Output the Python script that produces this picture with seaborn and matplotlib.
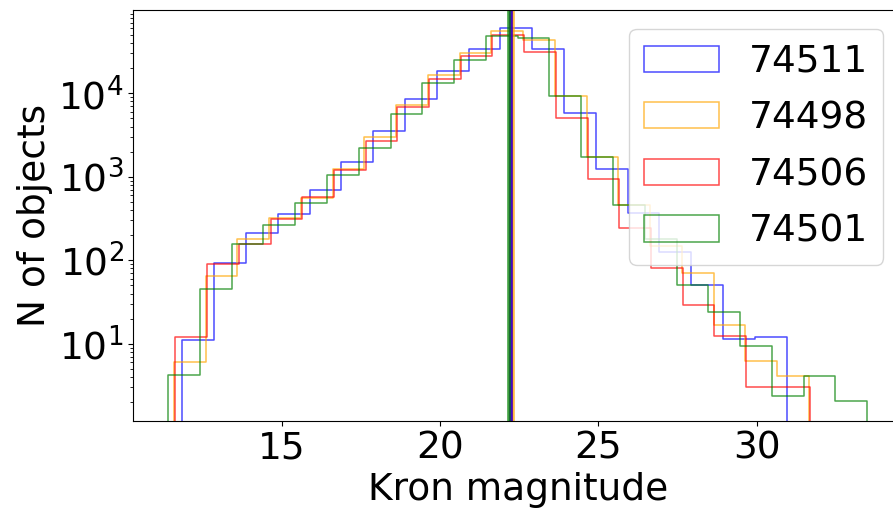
import numpy as np
import pandas as pd
import matplotlib
matplotlib.use("Agg")
import matplotlib.pyplot as plt
from matplotlib.patches import Patch
import seaborn as sns

# ---- data ----
labels = ["74511", "74498", "74506", "74501"]
colors = ["blue", "orange", "red", "green"]

bin_start = [11.87, 11.60, 11.65, 11.42]
bin_width = [1.004, 1.0025, 1.001, 1.0033]

counts_74511 = [11, 94, 212, 360, 705, 1486, 3500, 8600, 18660, 33700,
                60800, 33700, 5850, 1225, 373, 127, 51, 11.5, 12]
counts_74498 = [6, 65, 178, 325, 558, 1236, 3016, 7245, 16600, 30500,
                56400, 44000, 9200, 1740, 460, 148, 70, 16.6, 6.2, 4.1]
counts_74506 = [12, 90, 158, 313, 580, 1202, 2680, 6790, 14850, 28000,
                50500, 31600, 5090, 945, 247, 82, 29, 12.3, 3.05, 3.05]
counts_74501 = [4.2, 45, 158, 265, 487, 1055, 2222, 5650, 13400, 25100,
                48900, 45700, 9200, 1740, 457, 179, 51, 24, 9.4, 2.35, 4.1, 2.05]
all_counts = [counts_74511, counts_74498, counts_74506, counts_74501]

medians = [22.26, 22.32, 22.24, 22.17]

# ---- figure ----
fs = 27
fig = plt.figure(figsize=(8.93, 5.11), dpi=100)
ax = fig.add_axes([0.1493, 0.1767, 0.8608, 0.8037])

for counts, start, w, c in zip(all_counts, bin_start, bin_width, colors):
    n = len(counts)
    edges = [float(start + w * k) for k in range(-1, n + 2)]
    centers = [e + w / 2 for e in edges[:-1]]
    weights = [0.0] + [float(v) for v in counts] + [0.0]
    df = pd.DataFrame({"mag": centers, "n": weights})
    sns.histplot(data=df, x="mag", weights="n", bins=edges, element="step",
                 fill=False, color=c, alpha=0.7, linewidth=1.1, ax=ax)

for idx in [1, 2, 0, 3]:
    ax.axvline(medians[idx], color=colors[idx], alpha=0.75, linewidth=2.6)

ax.set_yscale("log")
ax.set_ylim(1.2, 9.95e4)
ax.set_xlim(10.32, 34.59)

ax.set_xlabel("Kron magnitude", fontsize=fs)
ax.set_ylabel("N of objects", fontsize=fs)
ax.tick_params(axis="both", which="major", labelsize=fs)

handles = [Patch(facecolor="none", edgecolor=c, alpha=0.7, linewidth=1.1) for c in colors]
ax.legend(handles, labels, loc="upper right", fontsize=fs, labelspacing=0.55)

fig.savefig("out.png", dpi=100)
